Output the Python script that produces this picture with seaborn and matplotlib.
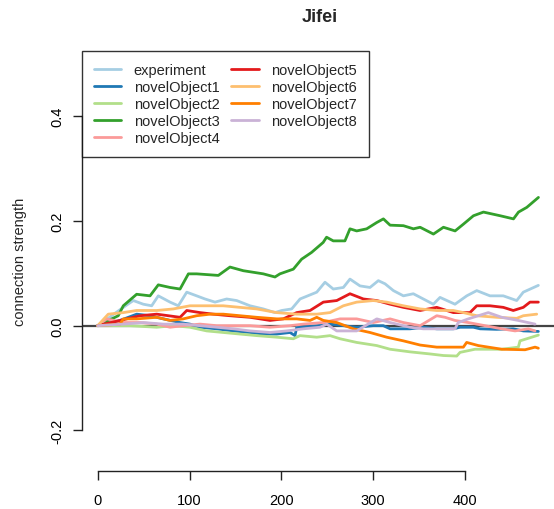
import matplotlib
matplotlib.use("Agg")
import matplotlib.pyplot as plt
from matplotlib.lines import Line2D
import numpy as np
import pandas as pd
import seaborn as sns

# ---- data: cumulative connection strength per trial ----
series_names = ["experiment", "novelObject1", "novelObject2", "novelObject3", "novelObject4",
                "novelObject5", "novelObject6", "novelObject7", "novelObject8"]

experiment_x = [0, 27.9, 38.8, 49.7, 58.8, 66.0, 78.8, 87.8, 97.0, 107.8, 116.9, 127.8, 140.5, 151.4,
                165.9, 180.4, 193.1, 200.4, 211.3, 220.4, 238.6, 247.6, 256.6, 267.6, 274.8, 285.7,
                296.6, 305.7, 313.0, 322.1, 333.0, 343.8, 354.7, 365.6, 372.9, 389.2, 402.0, 412.9,
                427.3, 441.8, 456.4, 463.6, 480]
experiment_y = [0, 0.035, 0.048, 0.041, 0.038, 0.057, 0.045, 0.038, 0.064, 0.057, 0.051, 0.045, 0.051,
                0.048, 0.038, 0.032, 0.025, 0.029, 0.032, 0.051, 0.064, 0.083, 0.070, 0.073, 0.089,
                0.076, 0.073, 0.086, 0.080, 0.067, 0.057, 0.061, 0.051, 0.041, 0.054, 0.041, 0.057,
                0.067, 0.057, 0.057, 0.048, 0.064, 0.077]

novel1_x = [0, 24.3, 42.5, 57.0, 71.5, 89.7, 100.5, 111.4, 129.6, 147.7, 165.9, 180.4, 195.0, 209.5,
            214.9, 216.8, 238.6, 253.1, 267.6, 282.1, 300.2, 311.1, 318.5, 340.2, 354.7, 369.3, 387.4,
            394.7, 409.2, 416.5, 434.6, 452.7, 463.6, 480]
novel1_y = [0, 0.010, 0.022, 0.019, 0.013, 0.006, 0.003, -0.003, -0.006, -0.010, -0.013, -0.016, -0.016,
            -0.013, -0.019, -0.003, 0.0, 0.003, 0.0, -0.003, 0.0, 0.0, -0.006, -0.006, -0.003, -0.006,
            -0.006, -0.003, -0.003, -0.006, -0.007, -0.006, -0.010, -0.011]

novel2_x = [0, 35.2, 64.3, 82.4, 100.5, 118.7, 136.8, 155.0, 173.2, 195.0, 213.1, 220.4, 238.6, 253.1,
            264.0, 282.1, 304.0, 318.5, 340.2, 362.0, 376.5, 391.1, 394.7, 411.0, 440.1, 458.2, 460.0,
            472.8, 480]
novel2_y = [0, 0.0, -0.003, 0.0, -0.003, -0.010, -0.013, -0.016, -0.019, -0.022, -0.025, -0.019, -0.022,
            -0.019, -0.025, -0.032, -0.038, -0.045, -0.050, -0.054, -0.057, -0.058, -0.051, -0.045,
            -0.045, -0.041, -0.029, -0.022, -0.018]

novel3_x = [0, 22.4, 27.9, 42.4, 57.0, 66.0, 78.8, 89.7, 98.8, 107.8, 131.4, 144.1, 158.6, 180.4, 193.1,
            198.5, 213.1, 222.1, 233.0, 245.6, 249.3, 256.6, 269.3, 274.8, 282.1, 293.0, 303.9, 311.2,
            318.5, 333.0, 343.9, 351.2, 365.7, 376.6, 389.3, 398.4, 409.3, 420.2, 438.4, 452.9, 458.4,
            467.4, 480.1]
novel3_y = [0, 0.019, 0.038, 0.060, 0.057, 0.078, 0.073, 0.070, 0.099, 0.099, 0.096, 0.112, 0.105, 0.099,
            0.093, 0.099, 0.108, 0.127, 0.140, 0.159, 0.169, 0.162, 0.162, 0.185, 0.181, 0.185, 0.197,
            0.204, 0.192, 0.191, 0.185, 0.188, 0.175, 0.188, 0.181, 0.194, 0.210, 0.217, 0.210, 0.204,
            0.217, 0.226, 0.245]

novel4_x = [0, 9.8, 27.9, 46.1, 64.3, 78.8, 93.2, 111.4, 129.6, 147.7, 165.9, 187.7, 209.5, 224.0, 245.8,
            264.0, 282.1, 300.2, 318.5, 333.0, 351.2, 369.3, 378.4, 389.2, 403.7, 421.9, 440.1, 454.6,
            469.1, 476.4]
novel4_y = [0, 0.013, 0.006, 0.006, 0.003, -0.003, 0.0, 0.003, 0.0, 0.0, 0.0, -0.003, 0.0, 0.003, 0.006,
            0.013, 0.013, 0.006, 0.013, 0.006, 0.0, 0.019, 0.016, 0.010, 0.006, 0.0, -0.006, -0.010,
            -0.006, -0.010]

novel5_x = [0, 46.1, 64.3, 89.7, 97.0, 111.4, 125.9, 144.1, 165.9, 187.7, 202.2, 216.8, 231.3, 245.8,
            260.4, 274.8, 289.4, 304.0, 318.5, 333.0, 351.2, 369.3, 387.4, 405.5, 412.9, 427.3, 441.8,
            452.7, 463.6, 470.9, 480]
novel5_y = [0, 0.019, 0.022, 0.016, 0.029, 0.025, 0.022, 0.019, 0.016, 0.010, 0.013, 0.025, 0.029, 0.045,
            0.048, 0.061, 0.051, 0.048, 0.041, 0.035, 0.029, 0.035, 0.025, 0.025, 0.038, 0.038, 0.035,
            0.029, 0.035, 0.045, 0.045]

novel6_x = [0, 11.5, 27.9, 42.5, 64.3, 82.4, 100.5, 115.0, 136.8, 155.0, 173.2, 195.0, 216.8, 238.6,
            253.1, 267.6, 282.1, 300.2, 314.8, 333.0, 351.2, 369.3, 387.4, 398.3, 412.9, 434.6, 456.4,
            463.6, 478.2]
novel6_y = [0, 0.022, 0.025, 0.029, 0.029, 0.032, 0.038, 0.038, 0.038, 0.035, 0.032, 0.025, 0.022, 0.022,
            0.025, 0.038, 0.045, 0.048, 0.045, 0.038, 0.032, 0.029, 0.029, 0.025, 0.019, 0.016, 0.014,
            0.019, 0.022]

novel7_x = [0, 24.3, 27.9, 42.5, 64.3, 78.8, 93.2, 107.8, 122.3, 136.8, 155.0, 173.2, 195.0, 216.8, 231.3,
            238.6, 245.8, 260.4, 278.5, 296.6, 314.8, 333.0, 351.2, 369.3, 387.4, 398.3, 401.9, 414.6,
            440.1, 465.5, 476.4, 480]
novel7_y = [0, 0.003, 0.013, 0.013, 0.016, 0.010, 0.013, 0.019, 0.022, 0.022, 0.019, 0.016, 0.013, 0.013,
            0.010, 0.016, 0.010, 0.006, -0.006, -0.013, -0.022, -0.029, -0.037, -0.041, -0.041, -0.041,
            -0.032, -0.038, -0.045, -0.046, -0.041, -0.043]

novel8_x = [0, 27.9, 49.7, 71.5, 93.2, 111.4, 129.6, 147.7, 165.9, 187.7, 205.9, 224.0, 242.2, 249.5,
            260.4, 282.1, 304.0, 318.5, 340.2, 354.7, 369.3, 389.2, 392.8, 403.7, 420.0, 425.5, 440.1,
            458.2, 476.4]
novel8_y = [0, 0.003, 0.006, 0.003, 0.003, 0.0, -0.003, -0.006, -0.010, -0.013, -0.010, -0.006, -0.003,
            0.003, -0.010, -0.010, 0.013, 0.006, -0.003, -0.006, -0.006, -0.006, 0.006, 0.013, 0.022,
            0.025, 0.016, 0.010, 0.003]

x_ticks = [0, 100, 200, 300, 400]
y_ticks = [-0.2, 0.0, 0.2, 0.4]
y_tick_labels = ["-0.2", "0.0", "0.2", "0.4"]

all_x = [experiment_x, novel1_x, novel2_x, novel3_x, novel4_x, novel5_x, novel6_x, novel7_x, novel8_x]
all_y = [experiment_y, novel1_y, novel2_y, novel3_y, novel4_y, novel5_y, novel6_y, novel7_y, novel8_y]

frames = [pd.DataFrame({"trial": xs, "strength": ys, "series": name})
          for name, xs, ys in zip(series_names, all_x, all_y)]
df = pd.concat(frames, ignore_index=True)

# ---- style ----
sns.set_style("white")
plt.rcParams["font.family"] = ["Liberation Sans", "DejaVu Sans"]
palette = sns.color_palette("Paired", 9)

FS = 10.5
W, H = 554, 510
fig = plt.figure(figsize=(W / 100, H / 100), dpi=100)
# plot region in pixels: left 82, right 558 (runs past the canvas edge), top 52, bottom 472
ax = fig.add_axes([82 / W, (H - 472) / H, (558 - 82) / W, (472 - 52) / H])
ax.set_facecolor("white")
fig.patch.set_facecolor("white")

ax.axhline(0, color="#444444", lw=1.6, zorder=1)

for i, name in enumerate(series_names):
    sub = df[df["series"] == name]
    sns.lineplot(data=sub, x="trial", y="strength", color=palette[i], lw=2.0,
                 estimator=None, sort=False, ax=ax, zorder=2 + i)

ax.set_xlim(-17.1, 501.4)
ax.set_ylim(-0.2776, 0.5247)
ax.set_xlabel("")
ax.set_ylabel("")

for side in ["top", "right"]:
    ax.spines[side].set_visible(False)
for side in ["left", "bottom"]:
    ax.spines[side].set_color("#222222")
    ax.spines[side].set_linewidth(1.0)
ax.spines["left"].set_bounds(-0.2, 0.4)
ax.spines["bottom"].set_bounds(0, 400)

ax.set_xticks(x_ticks)
ax.set_xticklabels([str(t) for t in x_ticks])
ax.set_yticks(y_ticks)
ax.set_yticklabels(y_tick_labels, rotation=90, va="center")
ax.tick_params(axis="both", which="major", bottom=True, left=True, direction="out",
               length=6.5, width=1.0, color="#222222", labelsize=FS, labelcolor="black")
ax.tick_params(axis="x", pad=9)
ax.tick_params(axis="y", pad=6)

fig.text(320 / W, 1 - 18 / H, "Jifei", ha="center", va="center", fontsize=13, fontweight="bold")
fig.text(20 / W, 1 - 262 / H, "connection strength", ha="center", va="center", rotation=90, fontsize=FS)

handles = [Line2D([0], [0], color=palette[i], lw=2.0) for i in range(9)]
leg = ax.legend(handles, series_names, loc="upper left", bbox_to_anchor=(0, 1),
                bbox_transform=ax.transAxes, borderaxespad=0, ncol=2, frameon=True,
                fancybox=False, fontsize=FS, handlelength=1.9, handletextpad=0.85,
                labelspacing=0.22, columnspacing=0.8, borderpad=0.8)
leg.get_frame().set_edgecolor("black")
leg.get_frame().set_linewidth(1.0)
leg.set_zorder(20)

fig.savefig("out.png", dpi=100, facecolor="white")
